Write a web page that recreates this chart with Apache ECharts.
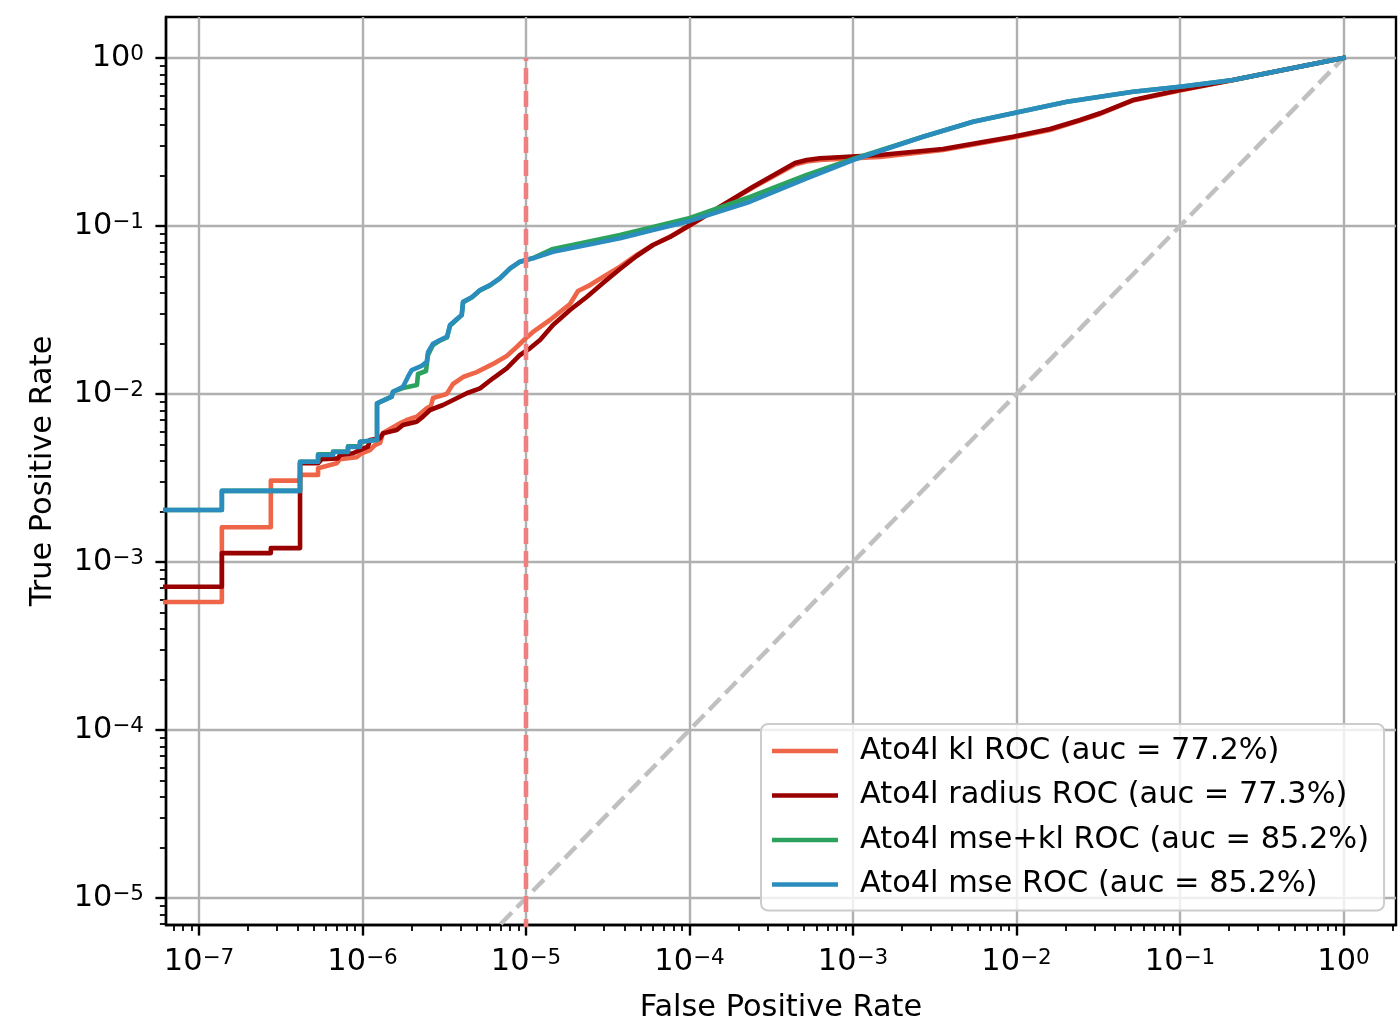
<!DOCTYPE html>
<html><head><meta charset="utf-8">
<script src="https://cdn.jsdelivr.net/npm/echarts/dist/echarts.min.js"></script>
<style>html,body{margin:0;padding:0;background:#fff}#c{width:1400px;height:1024px}</style>
</head><body><div id="c"></div><script>
// ---- data ----
const seriesNames = ['Ato4l kl ROC (auc = 77.2%)', 'Ato4l radius ROC (auc = 77.3%)', 'Ato4l mse+kl ROC (auc = 85.2%)', 'Ato4l mse ROC (auc = 85.2%)'];
const seriesColors = ['#ef6548', '#990000', '#2ca25f', '#2b8cbe'];
const xMajorTicks = [1e-7, 1e-6, 1e-5, 1e-4, 1e-3, 1e-2, 1e-1, 1];
const yMajorTicks = [1e-5, 1e-4, 1e-3, 1e-2, 1e-1, 1];
const xRange = [Math.pow(10, -7.2018), Math.pow(10, 0.3211)];
const yRange = [Math.pow(10, -5.1607), Math.pow(10, 0.244)];

const rocKl = [[5e-8,5.78e-4],[1.38e-7,5.78e-4],[1.38e-7,1.61e-3],[2.75e-7,1.61e-3],[2.75e-7,3.05e-3],[4.15e-7,3.05e-3],[4.15e-7,3.3e-3],[5.35e-7,3.3e-3],[5.35e-7,3.61e-3],[6.95e-7,3.87e-3],[7.29e-7,4.09e-3],[9.21e-7,4.2e-3],[9.89e-7,4.44e-3],[1.11e-6,4.64e-3],[1.193e-6,4.97e-3],[1.28e-6,5.11e-3],[1.335e-6,5.85e-3],[1.696e-6,6.69e-3],[1.864e-6,7.0e-3],[2.145e-6,7.33e-3],[2.47e-6,8.22e-3],[2.62e-6,8.48e-3],[2.699e-6,9.47e-3],[3.273e-6,1.0e-2],[3.577e-6,1.147e-2],[4.12e-6,1.262e-2],[4.996e-6,1.35e-2],[6.285e-6,1.51e-2],[7.62e-6,1.683e-2],[8.77e-6,1.905e-2],[9.86e-6,2.125e-2],[1.104e-5,2.34e-2],[1.402e-5,2.757e-2],[1.858e-5,3.43e-2],[2.08e-5,4.1e-2],[2.463e-5,4.45e-2],[2.958e-5,4.97e-2],[3.758e-5,5.72e-2],[4.754e-5,6.72e-2],[5.98e-5,7.71e-2],[7.6e-5,8.64e-2],[1.007e-4,0.1007],[1.537e-4,0.1297],[2.446e-4,0.1695],[4.42e-4,0.2323],[5.21e-4,0.242],[6.28e-4,0.2471],[1.463e-3,0.2575],[3.55e-3,0.2834],[9.52e-3,0.3363],[1.603e-2,0.373],[2.446e-2,0.4236],[3.24e-2,0.4642],[5.16e-2,0.5585],[0.1,0.6406],[0.211,0.74],[0.4266,0.848],[1,1]];

const rocRadius = [[5e-8,7.13e-4],[1.38e-7,7.13e-4],[1.38e-7,1.13e-3],[2.75e-7,1.13e-3],[2.75e-7,1.21e-3],[4.15e-7,1.21e-3],[4.15e-7,3.87e-3],[5.35e-7,3.87e-3],[5.63e-7,4.09e-3],[7.08e-7,4.14e-3],[7.29e-7,4.33e-3],[8.75e-7,4.44e-3],[9.65e-7,4.64e-3],[1.08e-6,4.86e-3],[1.11e-6,5.32e-3],[1.28e-6,5.45e-3],[1.335e-6,5.83e-3],[1.62e-6,6.1e-3],[1.769e-6,6.54e-3],[2.145e-6,6.84e-3],[2.344e-6,7.33e-3],[2.587e-6,8.03e-3],[3.108e-6,8.6e-3],[3.768e-6,9.43e-3],[4.34e-6,1.01e-2],[5.234e-6,1.081e-2],[6.285e-6,1.24e-2],[7.62e-6,1.422e-2],[9.19e-6,1.707e-2],[1.058e-5,1.871e-2],[1.218e-5,2.097e-2],[1.463e-5,2.574e-2],[1.858e-5,3.16e-2],[2.351e-5,3.78e-2],[2.958e-5,4.58e-2],[3.758e-5,5.55e-2],[4.754e-5,6.63e-2],[5.98e-5,7.71e-2],[7.6e-5,8.6e-2],[1.007e-4,0.1014],[1.537e-4,0.1302],[2.446e-4,0.1714],[4.42e-4,0.237],[5.21e-4,0.2471],[6.28e-4,0.2529],[1.463e-3,0.2646],[3.55e-3,0.287],[9.52e-3,0.34],[1.603e-2,0.378],[2.446e-2,0.4276],[3.24e-2,0.4687],[5.16e-2,0.562],[0.1,0.645],[0.211,0.74],[0.4266,0.848],[1,1]];

const rocMseKl = [[5e-8,2.04e-3],[1.38e-7,2.04e-3],[1.38e-7,2.65e-3],[4.15e-7,2.65e-3],[4.15e-7,3.95e-3],[5.35e-7,3.95e-3],[5.35e-7,4.38e-3],[6.6e-7,4.38e-3],[6.6e-7,4.55e-3],[8.15e-7,4.55e-3],[8.15e-7,4.88e-3],[9.65e-7,4.88e-3],[9.65e-7,5.2e-3],[1.227e-6,5.32e-3],[1.227e-6,8.8e-3],[1.509e-6,9.64e-3],[1.537e-6,1.032e-2],[1.769e-6,1.085e-2],[2.154e-6,1.131e-2],[2.185e-6,1.315e-2],[2.446e-6,1.37e-2],[2.516e-6,1.707e-2],[2.699e-6,1.957e-2],[2.979e-6,2.08e-2],[3.29e-6,2.17e-2],[3.429e-6,2.55e-2],[3.838e-6,2.81e-2],[4.045e-6,2.95e-2],[4.12e-6,3.5e-2],[4.68e-6,3.76e-2],[5.234e-6,4.14e-2],[6.025e-6,4.43e-2],[6.934e-6,4.88e-2],[7.98e-6,5.58e-2],[9.19e-6,6.13e-2],[1.104e-5,6.45e-2],[1.463e-5,7.3e-2],[2.351e-5,8.03e-2],[3.758e-5,8.84e-2],[5.98e-5,9.87e-2],[1.007e-4,0.1116],[2.344e-4,0.1488],[5.21e-4,0.2012],[1e-3,0.2504],[2.68e-3,0.34],[5.42e-3,0.4176],[1.051e-2,0.479],[2.037e-2,0.549],[5.16e-2,0.63],[0.1,0.675],[0.211,0.74],[0.4266,0.848],[1,1]];

const rocMse = [[5e-8,2.04e-3],[1.38e-7,2.04e-3],[1.38e-7,2.65e-3],[4.15e-7,2.65e-3],[4.15e-7,3.95e-3],[5.35e-7,3.95e-3],[5.35e-7,4.33e-3],[6.6e-7,4.33e-3],[6.6e-7,4.52e-3],[8.15e-7,4.52e-3],[8.15e-7,4.84e-3],[9.65e-7,4.84e-3],[9.65e-7,5.2e-3],[1.227e-6,5.32e-3],[1.227e-6,8.8e-3],[1.509e-6,9.64e-3],[1.537e-6,1.032e-2],[1.769e-6,1.105e-2],[1.898e-6,1.268e-2],[2.0e-6,1.389e-2],[2.302e-6,1.47e-2],[2.47e-6,1.553e-2],[2.516e-6,1.772e-2],[2.699e-6,1.99e-2],[2.979e-6,2.097e-2],[3.29e-6,2.194e-2],[3.429e-6,2.574e-2],[3.838e-6,2.834e-2],[4.045e-6,2.953e-2],[4.12e-6,3.54e-2],[4.68e-6,3.78e-2],[5.234e-6,4.16e-2],[6.025e-6,4.45e-2],[6.934e-6,4.9e-2],[7.98e-6,5.6e-2],[9.19e-6,6.13e-2],[1.104e-5,6.42e-2],[1.463e-5,7.03e-2],[2.351e-5,7.71e-2],[3.758e-5,8.45e-2],[5.98e-5,9.47e-2],[1.007e-4,0.1072],[2.344e-4,0.1395],[5.21e-4,0.1923],[1e-3,0.2471],[2.68e-3,0.34],[5.42e-3,0.4176],[1.051e-2,0.479],[2.037e-2,0.549],[5.16e-2,0.63],[0.1,0.675],[0.211,0.74],[0.4266,0.848],[1,1]];

const diagonalLine = [[1e-8,1e-8],[1,1]];
const fprCutLine = [[1e-5,1e-7],[1e-5,1]];

// ---- helpers ----
function minorTicks(lo, hi){
  const out = [];
  for (let n = lo; n <= hi; n++) for (let k = 2; k <= 9; k++) out.push(k * Math.pow(10, n));
  return out;
}
const xMinorTicks = minorTicks(-8, 0);
const yMinorTicks = minorTicks(-6, 0);
const FONT = "'DejaVu Sans', sans-serif";
function powLabel(v){
  const e = Math.round(Math.log10(v));
  return '{m|10}{s|' + (e < 0 ? '\u2212' + (-e) : String(e)) + '}';
}
const richStyle = {
  m: {fontSize: 30.4, fontFamily: FONT, color: '#000', lineHeight: 30},
  s: {fontSize: 21.5, fontFamily: FONT, color: '#000', lineHeight: 19, verticalAlign: 'top'}
};
const axisBlack = {color: '#000', width: 2.4};

const chart = echarts.init(document.getElementById('c'), null, {renderer: 'canvas'});
const curves = [rocKl, rocRadius, rocMseKl, rocMse];
const option = {
  animation: false,
  backgroundColor: '#fff',
  grid: {left: 166, right: 4, top: 17, bottom: 99, containLabel: false, outerBoundsMode: 'none',
         show: true, borderColor: '#000', borderWidth: 2.4, backgroundColor: 'transparent'},
  legend: {
    data: seriesNames,
    orient: 'vertical',
    left: 761, top: 724,
    icon: 'rect', itemWidth: 66, itemHeight: 4.5, itemGap: 14.5,
    padding: [12, 15, 11, 11],
    backgroundColor: 'rgba(255,255,255,0.8)',
    borderColor: '#cccccc', borderWidth: 2, borderRadius: 7,
    textStyle: {fontSize: 30.4, fontFamily: FONT, color: '#000', lineHeight: 30, padding: [0, 0, 0, 17]}
  },
  xAxis: [{
    type: 'log', logBase: 10, min: xRange[0], max: xRange[1], position: 'bottom',
    name: 'False Positive Rate', nameLocation: 'middle', nameGap: 68,
    nameTextStyle: {fontSize: 30.4, fontFamily: FONT, color: '#000'},
    axisLine: {show: true, lineStyle: axisBlack},
    axisTick: {show: true, customValues: xMajorTicks, length: 10.6, lineStyle: axisBlack},
    axisLabel: {customValues: xMajorTicks, formatter: powLabel, rich: richStyle, margin: 22},
    splitLine: {show: true, lineStyle: {color: '#b0b0b0', width: 2.4}},
    minorTick: {show: false}
  }, {
    type: 'log', logBase: 10, min: xRange[0], max: xRange[1], position: 'bottom',
    axisLine: {show: false},
    axisTick: {show: true, customValues: xMinorTicks, length: 6.1, lineStyle: {color: '#000', width: 1.8}},
    axisLabel: {show: false},
    splitLine: {show: false}
  }],
  yAxis: [{
    type: 'log', logBase: 10, min: yRange[0], max: yRange[1], position: 'left',
    name: 'True Positive Rate', nameLocation: 'middle', nameGap: 108,
    nameTextStyle: {fontSize: 30.4, fontFamily: FONT, color: '#000'},
    axisLine: {show: true, lineStyle: axisBlack},
    axisTick: {show: true, customValues: yMajorTicks, length: 10.6, lineStyle: axisBlack},
    axisLabel: {customValues: yMajorTicks, formatter: powLabel, rich: richStyle, margin: 22},
    splitLine: {show: true, lineStyle: {color: '#b0b0b0', width: 2.4}},
    minorTick: {show: false}
  }, {
    type: 'log', logBase: 10, min: yRange[0], max: yRange[1], position: 'left',
    axisLine: {show: false},
    axisTick: {show: true, customValues: yMinorTicks, length: 6.1, lineStyle: {color: '#000', width: 1.8}},
    axisLabel: {show: false},
    splitLine: {show: false}
  }],
  series: [
    {name: 'diag', type: 'line', data: diagonalLine, showSymbol: false, symbol: 'none', silent: true,
     lineStyle: {color: '#c0c0c0', width: 4.5, type: [16, 7]}, itemStyle: {color: '#c0c0c0'}, z: 1}
  ].concat(curves.map((d, i) => ({
    name: seriesNames[i], type: 'line', data: d, showSymbol: false, symbol: 'none',
    lineStyle: {color: seriesColors[i], width: 4.6, cap: 'square', join: 'round'}, itemStyle: {color: seriesColors[i]}, z: 2 + i
  }))).concat([
    {name: 'cut', type: 'line', data: fprCutLine, showSymbol: false, symbol: 'none', silent: true,
     lineStyle: {color: '#f08080', width: 4.6, type: [16, 7]}, itemStyle: {color: '#f08080'}, z: 10}
  ])
};
chart.setOption(option);
</script></body></html>
